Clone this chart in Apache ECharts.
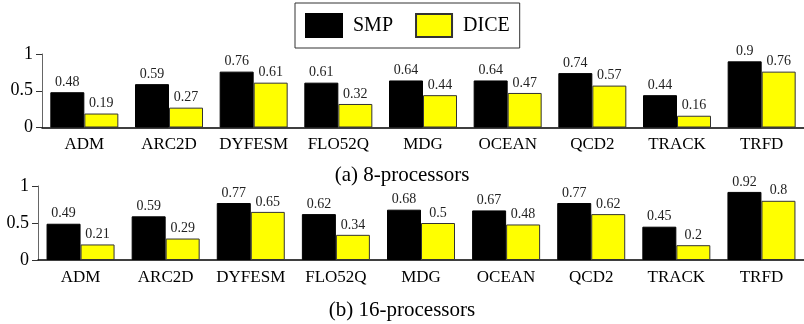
<!DOCTYPE html>
<html>
<head>
<meta charset="utf-8">
<script src="https://cdn.jsdelivr.net/npm/echarts@6/dist/echarts.min.js"></script>
<style>
  html, body { margin: 0; padding: 0; background: #fff; }
  #chart { width: 804px; height: 324px; }
</style>
</head>
<body>
<div id="chart"></div>
<script>
var categories = ['ADM', 'ARC2D', 'DYFESM', 'FLO52Q', 'MDG', 'OCEAN', 'QCD2', 'TRACK', 'TRFD'];
var smp8 = [0.48, 0.59, 0.76, 0.61, 0.64, 0.64, 0.74, 0.44, 0.9];
var dice8 = [0.19, 0.27, 0.61, 0.32, 0.44, 0.47, 0.57, 0.16, 0.76];
var smp16 = [0.49, 0.59, 0.77, 0.62, 0.68, 0.67, 0.77, 0.45, 0.92];
var dice16 = [0.21, 0.29, 0.65, 0.34, 0.5, 0.48, 0.62, 0.2, 0.8];
var subTitles = ['(a) 8-processors', '(b) 16-processors'];

var serif = 'Liberation Serif';

function xAxisFor(idx) {
    return {
        type: 'category',
        gridIndex: idx,
        data: categories,
        axisLine: { lineStyle: { color: '#000', width: 1.5 } },
        axisTick: { show: false },
        axisLabel: { interval: 0, color: '#000', fontFamily: serif, fontSize: 17, margin: 9 }
    };
}
function yAxisFor(idx) {
    return {
        type: 'value',
        gridIndex: idx,
        min: 0,
        max: 1,
        interval: 0.5,
        splitLine: { show: false },
        axisLine: { show: true, lineStyle: { color: '#666', width: 1 } },
        axisTick: { show: true, length: 6, lineStyle: { color: '#333' } },
        axisLabel: { color: '#000', fontFamily: serif, fontSize: 18, margin: 9 }
    };
}
function barSeries(name, data, idx, color, border) {
    return {
        name: name,
        type: 'bar',
        xAxisIndex: idx,
        yAxisIndex: idx,
        data: data,
        barWidth: 34,
        barGap: '0%',
        itemStyle: { color: color, borderColor: border, borderWidth: 1 },
        label: {
            show: true,
            position: 'top',
            distance: 3,
            color: '#222',
            fontFamily: serif,
            fontSize: 14
        }
    };
}

var myChart = echarts.init(document.getElementById('chart'));
var option = {
    animation: false,
    backgroundColor: '#fff',
    title: [{
        text: subTitles[0],
        left: 'center',
        top: 160,
        textStyle: { fontFamily: serif, fontSize: 21, fontWeight: 'normal', color: '#000' }
    }, {
        text: subTitles[1],
        left: 'center',
        top: 295,
        textStyle: { fontFamily: serif, fontSize: 21, fontWeight: 'normal', color: '#000' }
    }],
    legend: {
        left: 295,
        top: 3,
        padding: [10, 10, 10, 10],
        itemWidth: 36,
        itemHeight: 23,
        itemGap: 22,
        borderColor: '#333',
        borderWidth: 1,
        icon: 'rect',
        data: ['SMP', 'DICE'],
        textStyle: { fontFamily: serif, fontSize: 20, color: '#000', padding: [0, 0, 0, 6] }
    },
    grid: [
        { left: 42, top: 54, width: 772, height: 73.5 },
        { left: 38, top: 186, width: 770, height: 74 }
    ],
    xAxis: [xAxisFor(0), xAxisFor(1)],
    yAxis: [yAxisFor(0), yAxisFor(1)],
    series: [
        barSeries('SMP', smp8, 0, '#000', '#000'),
        barSeries('DICE', dice8, 0, '#ffff00', '#333'),
        barSeries('SMP', smp16, 1, '#000', '#000'),
        barSeries('DICE', dice16, 1, '#ffff00', '#333')
    ]
};
myChart.setOption(option);
</script>
</body>
</html>
